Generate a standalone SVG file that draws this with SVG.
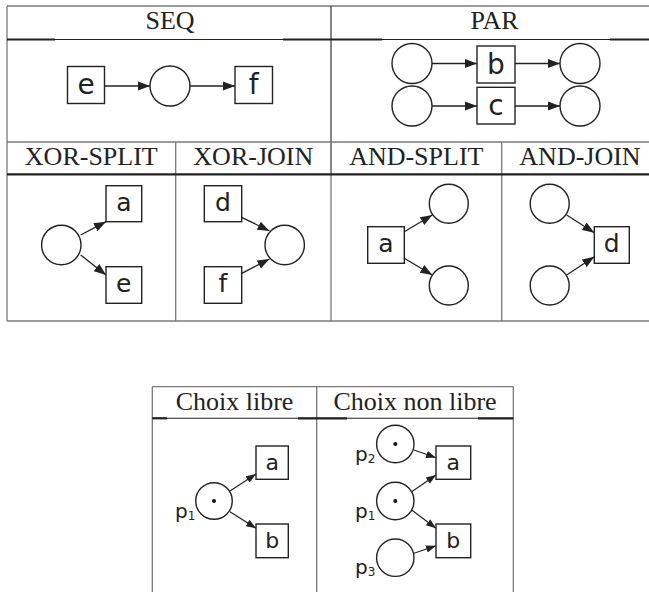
<svg xmlns="http://www.w3.org/2000/svg" width="649" height="592" viewBox="0 0 649 592">
<defs>
<marker id="ah" markerUnits="userSpaceOnUse" markerWidth="12" markerHeight="10" refX="12" refY="5" orient="auto"><path d="M0,0.5 L12,5 L0,9.5 z" fill="#222"/></marker>
<marker id="ahs" markerUnits="userSpaceOnUse" markerWidth="10" markerHeight="8" refX="10" refY="4" orient="auto"><path d="M0,0.3 L10,4 L0,7.7 z" fill="#222"/></marker>
<style>
.grid{stroke:#7a7a7a;stroke-width:1.3;fill:none}
.rule{stroke:#222;stroke-width:1.1;fill:none}
.rulet{stroke:#222;stroke-width:2.2;fill:none}
.hdr{font-family:"Liberation Serif",serif;font-size:26px;fill:#222;text-anchor:middle}
.pl{fill:#fff;stroke:#222;stroke-width:1.4}
.tr{fill:#fff;stroke:#222;stroke-width:1.4}
.lbl{font-family:"DejaVu Sans",sans-serif;fill:#222;text-anchor:middle}
.pn{font-family:"DejaVu Sans",sans-serif;fill:#222;font-size:20px}
.sub{font-size:12px}
.arc{stroke:#222;stroke-width:1.3;fill:none;marker-end:url(#ah)}
.arcs{stroke:#222;stroke-width:1.2;fill:none;marker-end:url(#ahs)}
.tok{fill:#111}
</style>
</defs>
<g id="table-top">
<line class="grid" x1="7" y1="6" x2="649" y2="6"/>
<line class="grid" x1="7" y1="6" x2="7" y2="321"/>
<line class="rule" x1="331" y1="6" x2="331" y2="174"/>
<line class="grid" x1="331" y1="174" x2="331" y2="321"/>
<line class="rule" x1="7" y1="39.5" x2="649" y2="39.5"/>
<line class="rulet" x1="7" y1="39.5" x2="55" y2="39.5"/>
<line class="rulet" x1="283" y1="39.5" x2="382" y2="39.5"/>
<line class="rulet" x1="610" y1="39.5" x2="649" y2="39.5"/>
<line class="grid" x1="7" y1="142" x2="649" y2="142"/>
<line class="grid" x1="175.7" y1="142" x2="175.7" y2="321"/>
<line class="grid" x1="501.7" y1="142" x2="501.7" y2="321"/>
<line class="rulet" x1="7" y1="174.3" x2="649" y2="174.3"/>
<line class="grid" x1="7" y1="321" x2="649" y2="321"/>
<text class="hdr" x="170" y="28.5">SEQ</text>
<text class="hdr" x="494.5" y="28.5">PAR</text>
<text class="hdr" x="91.3" y="165">XOR-SPLIT</text>
<text class="hdr" x="253.3" y="165">XOR-JOIN</text>
<text class="hdr" x="416.3" y="165">AND-SPLIT</text>
<text class="hdr" x="580" y="165">AND-JOIN</text>
</g>
<g id="table-bottom">
<line class="grid" x1="152.3" y1="386.7" x2="513.3" y2="386.7"/>
<line class="grid" x1="152.3" y1="386.7" x2="152.3" y2="592"/>
<line class="grid" x1="316.7" y1="386.7" x2="316.7" y2="592"/>
<line class="grid" x1="513.3" y1="386.7" x2="513.3" y2="592"/>
<line class="rule" x1="152.3" y1="418.3" x2="513.3" y2="418.3"/>
<line class="rulet" x1="152.3" y1="418.3" x2="167" y2="418.3"/>
<line class="rulet" x1="298" y1="418.3" x2="347" y2="418.3"/>
<line class="rulet" x1="478" y1="418.3" x2="513.3" y2="418.3"/>
<text class="hdr" x="234.5" y="410">Choix libre</text>
<text class="hdr" x="415" y="410">Choix non libre</text>
</g>
<g id="connectors">
<line class="arc" x1="105" y1="86" x2="150" y2="86"/>
<line class="arc" x1="190" y1="86" x2="235" y2="86"/>
<line class="arc" x1="432" y1="63.5" x2="477" y2="63.5"/>
<line class="arc" x1="515" y1="63.5" x2="560" y2="63.5"/>
<line class="arc" x1="432" y1="106" x2="477" y2="106"/>
<line class="arc" x1="515" y1="106" x2="560" y2="106"/>
<line class="arc" x1="80.7" y1="235" x2="106" y2="221.7"/>
<line class="arc" x1="80.7" y1="255" x2="106" y2="275"/>
<line class="arc" x1="241.7" y1="217.3" x2="269.5" y2="231"/>
<line class="arc" x1="241.7" y1="273.3" x2="269.5" y2="259"/>
<line class="arc" x1="404.3" y1="231.7" x2="432.3" y2="215"/>
<line class="arc" x1="404.3" y1="258.3" x2="432.3" y2="275"/>
<line class="arc" x1="566.7" y1="215" x2="594.3" y2="232.7"/>
<line class="arc" x1="566.7" y1="275" x2="594.3" y2="256.7"/>
<line class="arcs" x1="230" y1="491" x2="256" y2="474"/>
<line class="arcs" x1="230" y1="511.7" x2="256" y2="528.3"/>
<line class="arcs" x1="414" y1="450" x2="436" y2="457.7"/>
<line class="arcs" x1="411.7" y1="491.7" x2="436" y2="475"/>
<line class="arcs" x1="411.7" y1="510" x2="436" y2="528.3"/>
<line class="arcs" x1="414" y1="553.3" x2="436" y2="545.7"/>
</g>
<g id="seq-e"><rect class="tr" x="67.5" y="66.5" width="37" height="37"/><text class="lbl" x="86" y="94.3" font-size="28">e</text></g>
<g id="seq-p"><circle class="pl" cx="170" cy="86" r="20"/></g>
<g id="seq-f"><rect class="tr" x="235" y="66.5" width="37.5" height="37"/><text class="lbl" x="253.7" y="94.3" font-size="28">f</text></g>
<g id="par-p1"><circle class="pl" cx="412" cy="63.5" r="20"/></g>
<g id="par-p2"><circle class="pl" cx="412" cy="106" r="20"/></g>
<g id="par-b"><rect class="tr" x="477" y="46" width="38" height="37"/><text class="lbl" x="496" y="73.5" font-size="28">b</text></g>
<g id="par-c"><rect class="tr" x="477" y="87.3" width="38" height="36.7"/><text class="lbl" x="496" y="115" font-size="28">c</text></g>
<g id="par-p3"><circle class="pl" cx="580" cy="63.5" r="20"/></g>
<g id="par-p4"><circle class="pl" cx="580" cy="106" r="20"/></g>
<g id="xs-p"><circle class="pl" cx="61.3" cy="245" r="19.7"/></g>
<g id="xs-a"><rect class="tr" x="106" y="185.7" width="35.7" height="36"/><text class="lbl" x="123.8" y="211" font-size="25">a</text></g>
<g id="xs-e"><rect class="tr" x="106" y="266.7" width="35.7" height="36.6"/><text class="lbl" x="123.8" y="291.7" font-size="25">e</text></g>
<g id="xj-d"><rect class="tr" x="204.3" y="185.7" width="37.4" height="36"/><text class="lbl" x="223" y="211" font-size="25">d</text></g>
<g id="xj-f"><rect class="tr" x="204.3" y="266.7" width="37.4" height="36.6"/><text class="lbl" x="223" y="291.7" font-size="25">f</text></g>
<g id="xj-p"><circle class="pl" cx="284.7" cy="245" r="19.7"/></g>
<g id="as-a"><rect class="tr" x="367.7" y="226.7" width="36.6" height="36.6"/><text class="lbl" x="386" y="252" font-size="25">a</text></g>
<g id="as-p1"><circle class="pl" cx="448.8" cy="203.8" r="19.5"/></g>
<g id="as-p2"><circle class="pl" cx="448.8" cy="285.5" r="19.5"/></g>
<g id="aj-p1"><circle class="pl" cx="549.7" cy="203.8" r="19.5"/></g>
<g id="aj-p2"><circle class="pl" cx="549.7" cy="285.5" r="19.5"/></g>
<g id="aj-d"><rect class="tr" x="594.3" y="226.7" width="35" height="36.6"/><text class="lbl" x="611.8" y="252" font-size="25">d</text></g>
<g id="cl-p1"><circle class="pl" cx="214" cy="501" r="18.3"/><circle class="tok" cx="214" cy="501" r="2"/><text class="pn" x="175" y="517.5">p<tspan class="sub" dy="2">1</tspan></text></g>
<g id="cl-a"><rect class="tr" x="256" y="446" width="32.3" height="33.3"/><text class="lbl" x="272.2" y="470" font-size="22">a</text></g>
<g id="cl-b"><rect class="tr" x="256" y="524" width="32.3" height="33.7"/><text class="lbl" x="272.2" y="548.3" font-size="22">b</text></g>
<g id="cn-p2"><circle class="pl" cx="395.3" cy="444" r="18.7"/><circle class="tok" cx="395.3" cy="444" r="2"/><text class="pn" x="355" y="460.5">p<tspan class="sub" dy="2">2</tspan></text></g>
<g id="cn-p1"><circle class="pl" cx="395.3" cy="501" r="18.7"/><circle class="tok" cx="395.3" cy="501" r="2"/><text class="pn" x="355" y="517.5">p<tspan class="sub" dy="2">1</tspan></text></g>
<g id="cn-p3"><circle class="pl" cx="395.3" cy="557.7" r="18.7"/><text class="pn" x="355" y="574">p<tspan class="sub" dy="2">3</tspan></text></g>
<g id="cn-a"><rect class="tr" x="436" y="446" width="34.7" height="33.3"/><text class="lbl" x="453.3" y="470" font-size="22">a</text></g>
<g id="cn-b"><rect class="tr" x="436" y="524" width="34.7" height="33.7"/><text class="lbl" x="453.3" y="548.3" font-size="22">b</text></g>
</svg>
